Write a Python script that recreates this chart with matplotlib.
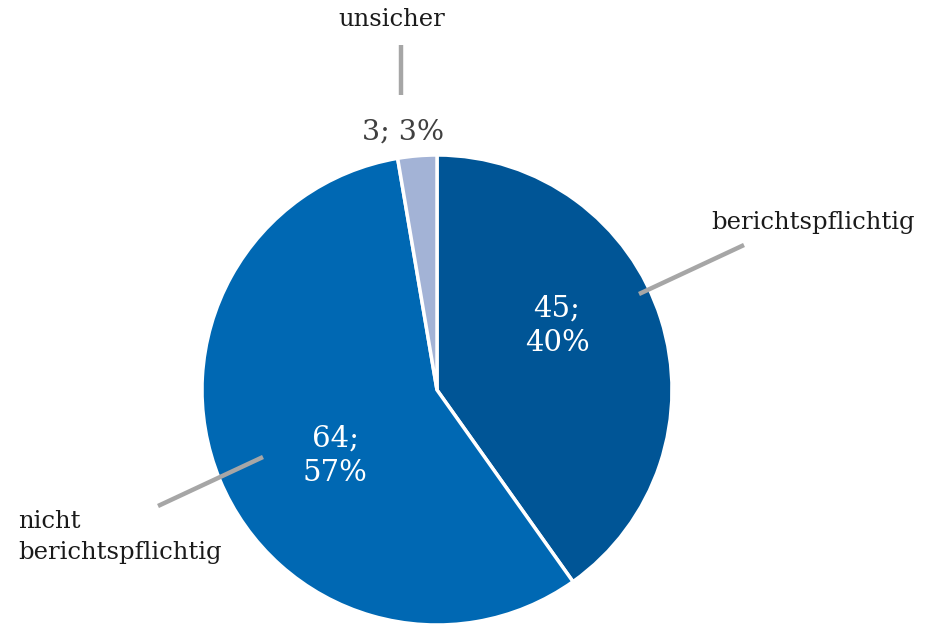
import matplotlib.pyplot as plt

categories = ["berichtspflichtig", "nicht\nberichtspflichtig", "unsicher"]
counts = [45, 64, 3]
percents = [40, 57, 3]
colors = ["#005596", "#0068B3", "#A3B3D6"]

fig = plt.figure(figsize=(9.34, 6.26), dpi=100)
ax = fig.add_axes([0, 0, 1, 1])

H = 626
cx, cy, r = 437, H - 390, 235
ax.pie(counts, colors=colors, startangle=90, counterclock=False,
       center=(cx, cy), radius=r, frame=True,
       wedgeprops=dict(edgecolor="white", linewidth=2.5))
ax.set_xlim(0, 934)
ax.set_ylim(0, 626)
ax.set_aspect("equal")
ax.axis("off")

font = "DejaVu Serif"
lead = "#A6A6A6"

# leader lines
ax.plot([639, 744], [H - 294, H - 245], color=lead, lw=3.2, solid_capstyle="butt")
ax.plot([401, 401], [H - 45, H - 95], color=lead, lw=3.2, solid_capstyle="butt")
ax.plot([158, 263], [H - 506, H - 457], color=lead, lw=3.2, solid_capstyle="butt")

# category labels
ax.text(813, H - 222, categories[0], ha="center", va="center",
        fontsize=17.5, family=font, color="#1a1a1a")
ax.text(18, H - 537, categories[1], ha="left", va="center",
        fontsize=17.5, family=font, color="#1a1a1a", linespacing=1.4)
ax.text(392, H - 19, categories[2], ha="center", va="center",
        fontsize=17.5, family=font, color="#1a1a1a")

# value labels
ax.text(557, H - 326, f"{counts[0]};\n{percents[0]}%", ha="center", va="center",
        fontsize=21, family=font, color="white", linespacing=1.3)
ax.text(335, H - 456, f"{counts[1]};\n{percents[1]}%", ha="center", va="center",
        fontsize=21, family=font, color="white", linespacing=1.3)
ax.text(403, H - 132, f"{counts[2]}; {percents[2]}%", ha="center", va="center",
        fontsize=20.5, family=font, color="#404040")

fig.savefig("out.png", dpi=100)
